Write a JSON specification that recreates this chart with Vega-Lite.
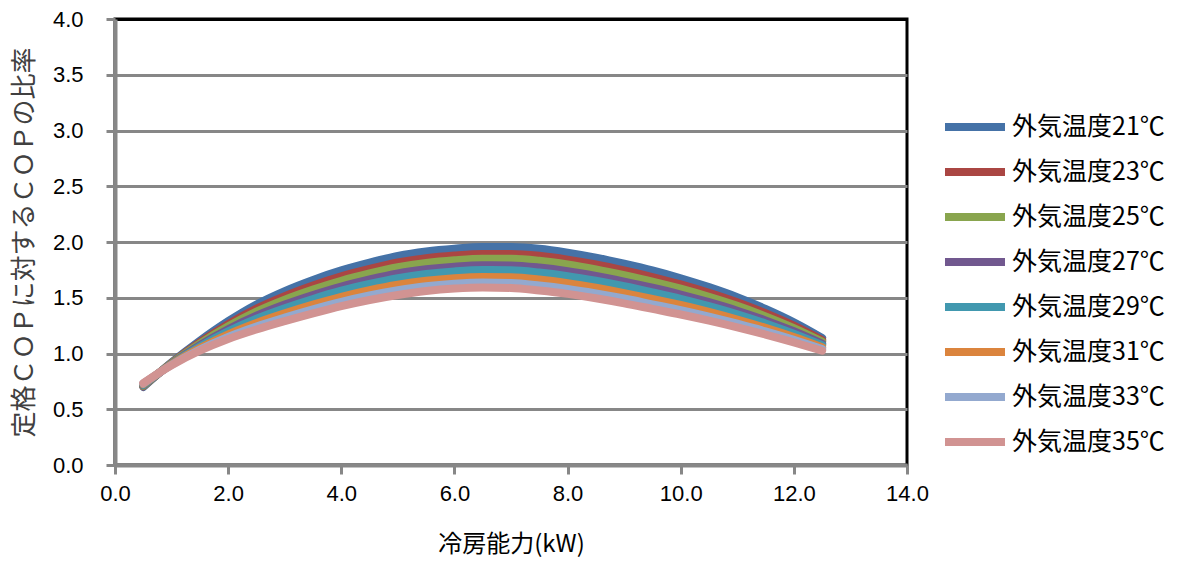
{
  "$schema": "https://vega.github.io/schema/vega-lite/v6.json",
  "width": 792,
  "height": 446,
  "autosize": {"type": "none"},
  "padding": {"left": 115, "top": 19, "right": 285, "bottom": 98},
  "background": "white",
  "config": {
    "view": {"stroke": "#000000", "strokeWidth": 3},
    "axis": {
      "domainColor": "#878787",
      "domainWidth": 4,
      "tickColor": "#878787",
      "tickWidth": 3,
      "tickSize": 9,
      "labelColor": "#000000",
      "titleColor": "#000000",
      "titleFontWeight": "normal"
    }
  },
  "data": {
    "values": [
      {"x": 0.5, "外気温度21℃": 0.700, "外気温度23℃": 0.706, "外気温度25℃": 0.710, "外気温度27℃": 0.716, "外気温度29℃": 0.720, "外気温度31℃": 0.726, "外気温度33℃": 0.731, "外気温度35℃": 0.735},
      {"x": 1.0, "外気温度21℃": 0.920, "外気温度23℃": 0.916, "外気温度25℃": 0.913, "外気温度27℃": 0.909, "外気温度29℃": 0.906, "外気温度31℃": 0.902, "外気温度33℃": 0.898, "外気温度35℃": 0.895},
      {"x": 1.5, "外気温度21℃": 1.115, "外気温度23℃": 1.100, "外気温度25℃": 1.089, "外気温度27℃": 1.075, "外気温度29℃": 1.064, "外気温度31℃": 1.048, "外気温度33℃": 1.036, "外気温度35℃": 1.025},
      {"x": 2.0, "外気温度21℃": 1.290, "外気温度23℃": 1.263, "外気温度25℃": 1.244, "外気温度27℃": 1.218, "外気温度29℃": 1.199, "外気温度31℃": 1.172, "外気温度33℃": 1.149, "外気温度35℃": 1.130},
      {"x": 2.5, "外気温度21℃": 1.440, "外気温度23℃": 1.402, "外気温度25℃": 1.375, "外気温度27℃": 1.339, "外気温度29℃": 1.312, "外気温度31℃": 1.274, "外気温度33℃": 1.242, "外気温度35℃": 1.215},
      {"x": 3.0, "外気温度21℃": 1.560, "外気温度23℃": 1.514, "外気温度25℃": 1.482, "外気温度27℃": 1.439, "外気温度29℃": 1.406, "外気温度31℃": 1.360, "外気温度33℃": 1.322, "外気温度35℃": 1.290},
      {"x": 3.5, "外気温度21℃": 1.660, "外気温度23℃": 1.609, "外気温度25℃": 1.573, "外気温度27℃": 1.525, "外気温度29℃": 1.489, "外気温度31℃": 1.438, "外気温度33℃": 1.396, "外気温度35℃": 1.360},
      {"x": 4.0, "外気温度21℃": 1.745, "外気温度23℃": 1.691, "外気温度25℃": 1.652, "外気温度27℃": 1.601, "外気温度29℃": 1.563, "外気温度31℃": 1.508, "外気温度33℃": 1.463, "外気温度35℃": 1.425},
      {"x": 4.5, "外気温度21℃": 1.815, "外気温度23℃": 1.758, "外気温度25℃": 1.718, "外気温度27℃": 1.664, "外気温度29℃": 1.624, "外気温度31℃": 1.567, "外気温度33℃": 1.520, "外気温度35℃": 1.480},
      {"x": 5.0, "外気温度21℃": 1.875, "外気温度23℃": 1.816, "外気温度25℃": 1.774, "外気温度27℃": 1.718, "外気温度29℃": 1.676, "外気温度31℃": 1.616, "外気温度33℃": 1.567, "外気温度35℃": 1.525},
      {"x": 5.5, "外気温度21℃": 1.915, "外気温度23℃": 1.855, "外気温度25℃": 1.812, "外気温度27℃": 1.755, "外気温度29℃": 1.713, "外気温度31℃": 1.652, "外気温度33℃": 1.603, "外気温度35℃": 1.560},
      {"x": 6.0, "外気温度21℃": 1.940, "外気温度23℃": 1.879, "外気温度25℃": 1.836, "外気温度27℃": 1.779, "外気温度29℃": 1.736, "外気温度31℃": 1.675, "外気温度33℃": 1.625, "外気温度35℃": 1.582},
      {"x": 6.5, "外気温度21℃": 1.955, "外気温度23℃": 1.893, "外気温度25℃": 1.850, "外気温度27℃": 1.792, "外気温度29℃": 1.748, "外気温度31℃": 1.686, "外気温度33℃": 1.636, "外気温度35℃": 1.592},
      {"x": 7.0, "外気温度21℃": 1.955, "外気温度23℃": 1.893, "外気温度25℃": 1.849, "外気温度27℃": 1.790, "外気温度29℃": 1.746, "外気温度31℃": 1.683, "外気温度33℃": 1.632, "外気温度35℃": 1.588},
      {"x": 7.5, "外気温度21℃": 1.940, "外気温度23℃": 1.876, "外気温度25℃": 1.831, "外気温度27℃": 1.771, "外気温度29℃": 1.726, "外気温度31℃": 1.663, "外気温度33℃": 1.610, "外気温度35℃": 1.565},
      {"x": 8.0, "外気温度21℃": 1.905, "外気温度23℃": 1.842, "外気温度25℃": 1.798, "外気温度27℃": 1.739, "外気温度29℃": 1.694, "外気温度31℃": 1.631, "外気温度33℃": 1.579, "外気温度35℃": 1.535},
      {"x": 8.5, "外気温度21℃": 1.860, "外気温度23℃": 1.798, "外気温度25℃": 1.754, "外気温度27℃": 1.696, "外気温度29℃": 1.652, "外気温度31℃": 1.590, "外気温度33℃": 1.539, "外気温度35℃": 1.495},
      {"x": 9.0, "外気温度21℃": 1.805, "外気温度23℃": 1.745, "外気温度25℃": 1.702, "外気温度27℃": 1.645, "外気温度29℃": 1.603, "外気温度31℃": 1.542, "外気温度33℃": 1.493, "外気温度35℃": 1.450},
      {"x": 9.5, "外気温度21℃": 1.745, "外気温度23℃": 1.686, "外気温度25℃": 1.645, "外気温度27℃": 1.590, "外気温度29℃": 1.548, "外気温度31℃": 1.490, "外気温度33℃": 1.441, "外気温度35℃": 1.400},
      {"x": 10.0, "外気温度21℃": 1.675, "外気温度23℃": 1.620, "外気温度25℃": 1.581, "外気温度27℃": 1.529, "外気温度29℃": 1.490, "外気温度31℃": 1.435, "外気温度33℃": 1.389, "外気温度35℃": 1.350},
      {"x": 10.5, "外気温度21℃": 1.595, "外気温度23℃": 1.544, "外気温度25℃": 1.508, "外気温度27℃": 1.460, "外気温度29℃": 1.424, "外気温度31℃": 1.373, "外気温度33℃": 1.331, "外気温度35℃": 1.295},
      {"x": 11.0, "外気温度21℃": 1.505, "外気温度23℃": 1.459, "外気温度25℃": 1.427, "外気温度27℃": 1.384, "外気温度29℃": 1.351, "外気温度31℃": 1.305, "外気温度33℃": 1.267, "外気温度35℃": 1.235},
      {"x": 11.5, "外気温度21℃": 1.400, "外気温度23℃": 1.361, "外気温度25℃": 1.333, "外気温度27℃": 1.297, "外気温度29℃": 1.269, "外気温度31℃": 1.230, "外気温度33℃": 1.198, "外気温度35℃": 1.170},
      {"x": 12.0, "外気温度21℃": 1.280, "外気温度23℃": 1.249, "外気温度25℃": 1.228, "外気温度27℃": 1.199, "外気温度29℃": 1.177, "外気温度31℃": 1.147, "外気温度33℃": 1.122, "外気温度35℃": 1.100},
      {"x": 12.5, "外気温度21℃": 1.140, "外気温度23℃": 1.120, "外気温度25℃": 1.107, "外気温度27℃": 1.088, "外気温度29℃": 1.074, "外気温度31℃": 1.055, "外気温度33℃": 1.039, "外気温度35℃": 1.025}
    ]
  },
  "transform": [
    {"fold": ["外気温度21℃", "外気温度23℃", "外気温度25℃", "外気温度27℃", "外気温度29℃", "外気温度31℃", "外気温度33℃", "外気温度35℃"], "as": ["series", "cop"]}
  ],
  "mark": {"type": "line", "strokeWidth": 8, "strokeCap": "round", "strokeJoin": "round", "interpolate": "monotone"},
  "encoding": {
    "x": {
      "field": "x",
      "type": "quantitative",
      "scale": {"domain": [0, 14], "nice": false},
      "axis": {
        "values": [0, 2, 4, 6, 8, 10, 12, 14],
        "format": ".1f",
        "grid": false,
        "title": "冷房能力(kW)",
        "titleFont": "Noto Sans CJK JP",
        "titleFontSize": 24,
        "titlePadding": 28,
        "labelFont": "Liberation Sans Narrow, Liberation Sans",
        "labelFontSize": 22,
        "labelPadding": 9,
        "labelFlush": false
      }
    },
    "y": {
      "field": "cop",
      "type": "quantitative",
      "scale": {"domain": [0, 4], "nice": false},
      "axis": {
        "values": [0, 0.5, 1, 1.5, 2, 2.5, 3, 3.5, 4],
        "format": ".1f",
        "grid": true,
        "gridColor": {"condition": {"test": "datum.value == 4", "value": "#000000"}, "value": "#878787"},
        "gridWidth": 3,
        "title": "定格ＣＯＰに対するＣＯＰの比率",
        "titleFont": "Noto Sans CJK JP",
        "titleFontSize": 26,
        "titleColor": "#404040",
        "titlePadding": 15,
        "labelFont": "Liberation Sans",
        "labelFontSize": 22,
        "labelPadding": 23,
        "labelFlush": false
      }
    },
    "color": {
      "field": "series",
      "type": "nominal",
      "scale": {
        "domain": ["外気温度21℃", "外気温度23℃", "外気温度25℃", "外気温度27℃", "外気温度29℃", "外気温度31℃", "外気温度33℃", "外気温度35℃"],
        "range": ["#4572A7", "#AA4643", "#89A54E", "#71588F", "#4198AF", "#DB843D", "#93A9CF", "#D19392"]
      },
      "legend": {
        "orient": "none",
        "legendX": 826,
        "legendY": 96,
        "title": null,
        "symbolType": "stroke",
        "symbolSize": 3600,
        "symbolStrokeWidth": 8,
        "labelFont": "Noto Sans CJK JP",
        "labelFontSize": 25,
        "labelColor": "#000000",
        "labelOffset": 3,
        "labelLimit": 300,
        "clipHeight": 24,
        "rowPadding": 20
      }
    }
  }
}
